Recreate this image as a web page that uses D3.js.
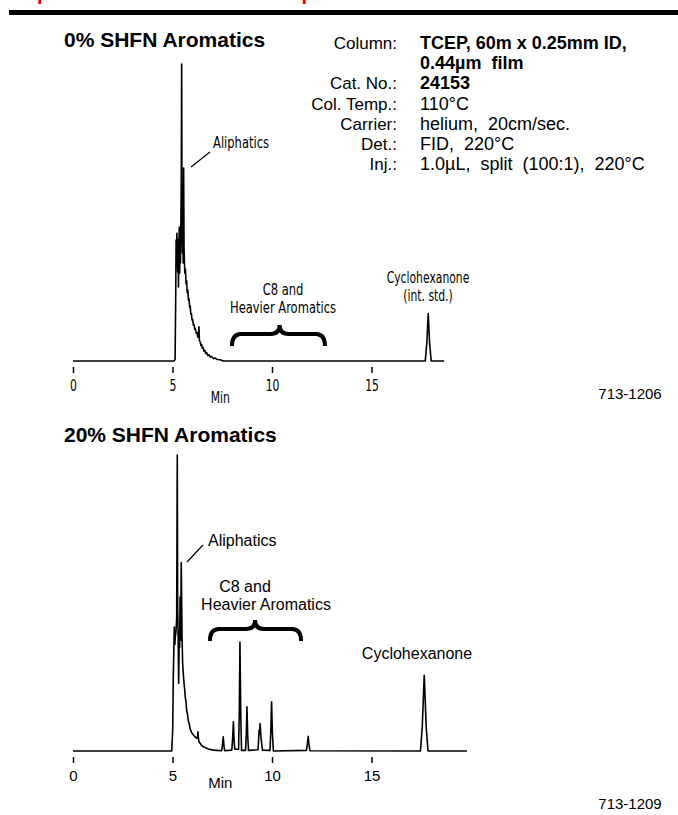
<!DOCTYPE html>
<html lang="en">
<head>
<meta charset="UTF-8">
<title>SHFN Aromatics</title>
<script src="https://d3js.org/d3.v7.min.js"></script>
<style>
  body { margin: 0; background: #fff; }
  svg { display: block; }
  .title { font: bold 21px "Liberation Sans", Arial, sans-serif; fill: #000; }
  .info { font: 17px "Liberation Sans", Arial, sans-serif; fill: #000; }
  .bold { font-weight: bold; }
  .narrow { font-family: "Liberation Sans Narrow", "DejaVu Sans Condensed", sans-serif; }
  .regular { font-family: "Liberation Sans", Arial, sans-serif; }
  .trace { fill: none; stroke: #000; stroke-width: 1.6; stroke-linejoin: round; }
  .brace { fill: none; stroke: #000; stroke-width: 4; }
  .lead { stroke: #000; stroke-width: 1.2; }
</style>
</head>
<body>
<svg id="chart" width="678" height="815"></svg>
<script>
// [retention time (min), detector signal (% of largest peak)]
const topTrace = [
  [0, 0], [5.08, 0], [5.13, 0.5], [5.16, 20], [5.18, 40.7], [5.2, 35], [5.22, 43], [5.24, 38],
  [5.26, 30], [5.28, 41], [5.3, 24.9], [5.32, 38], [5.34, 45.1], [5.36, 29.6], [5.38, 42], [5.4, 33],
  [5.42, 46.5], [5.44, 60], [5.46, 100], [5.48, 45], [5.5, 36.4], [5.52, 42], [5.54, 33], [5.56, 65],
  [5.58, 38.4], [5.6, 33], [5.62, 29.6], [5.65, 31], [5.68, 26], [5.71, 27], [5.74, 23], [5.77, 24],
  [5.8, 20.5], [5.83, 21], [5.86, 18], [5.89, 18.5], [5.92, 15.8], [5.95, 16], [5.98, 13.8], [6.01, 14],
  [6.05, 12], [6.08, 12.3], [6.12, 10.6], [6.15, 10.9], [6.19, 9.4], [6.23, 9.6], [6.27, 8], [6.3, 8.5],
  [6.33, 11.5], [6.35, 6.8], [6.39, 6.5], [6.43, 5.2], [6.46, 5.6], [6.5, 4.3], [6.54, 4.6], [6.58, 3.3],
  [6.62, 3.6], [6.67, 2.5], [6.72, 2.8], [6.78, 1.8], [6.84, 2.1], [6.9, 1.3], [6.97, 1.5], [7.05, 0.8],
  [7.15, 1.0], [7.25, 0.5], [7.4, 0.4], [7.55, 0],
  [17.7, 0], [17.78, 6], [17.85, 16], [17.92, 6], [18.0, 0], [18.65, 0]
];

const bottomTrace = [
  [0, 0], [4.96, 0], [5.01, 7.1], [5.04, 25], [5.09, 41.9], [5.12, 36], [5.14, 38.5], [5.18, 40.7],
  [5.21, 45], [5.24, 100], [5.26, 48], [5.28, 40.7], [5.31, 22.8], [5.34, 40.7], [5.36, 35], [5.38, 52],
  [5.41, 37.4], [5.44, 63.7], [5.48, 38.5], [5.51, 29.5], [5.55, 25.5], [5.58, 22.8], [5.61, 21],
  [5.64, 18.3], [5.68, 16.5], [5.71, 13.8], [5.75, 12.6], [5.79, 10.4], [5.84, 9.2], [5.88, 7.6],
  [5.96, 6.3], [6.05, 5.4], [6.15, 4.7], [6.22, 4.3], [6.26, 5], [6.28, 6.5], [6.3, 4.5], [6.33, 3.1],
  [6.45, 2], [6.55, 1.4], [6.8, 0.7], [7.05, 0.3], [7.47, 0.1], [7.51, 2], [7.55, 4.8], [7.59, 1.5],
  [7.62, 0.1], [7.98, 0.3], [8.02, 4], [8.06, 9.9], [8.1, 3], [8.13, 0.6], [8.32, 0.6], [8.36, 15],
  [8.39, 36.8], [8.43, 12], [8.47, 0.2], [8.67, 0.2], [8.71, 6], [8.74, 14.9], [8.78, 5], [8.82, 0.2],
  [9.3, 0.4], [9.35, 7], [9.37, 5.5], [9.4, 9.3], [9.45, 4.4], [9.52, 0.3], [9.9, 0.2], [9.94, 7],
  [9.98, 16.6], [10.02, 6], [10.07, 0], [11.73, 0.2], [11.78, 2.5], [11.82, 5], [11.86, 2], [11.91, 0.1],
  [17.46, 0], [17.55, 8], [17.65, 25.6], [17.75, 8], [17.84, 0], [19.8, 0]
];

const tickValues = [0, 5, 10, 15];

const infoLabels = ["Column:", "", "Cat. No.:", "Col. Temp.:", "Carrier:", "Det.:", "Inj.:"];
const infoValues = ["TCEP, 60m x 0.25mm ID,", "0.44\u00b5m  film", "24153", "110\u00b0C",
  "helium,  20cm/sec.", "FID,  220\u00b0C", "1.0\u00b5L,  split  (100:1),  220\u00b0C"];
const infoBold = [true, true, true, false, false, false, false];

const svg = d3.select("#chart");

// cut-off red heading and black rule
svg.append("text").attr("x", 12.6).attr("y", 0).attr("fill", "#e8000b")
  .attr("font-family", "Liberation Sans, Arial, sans-serif").attr("font-weight", "bold").attr("font-size", 20)
  .text("Separation of Aromatics");
svg.append("text").attr("x", 276).attr("y", 0).attr("fill", "#e8000b")
  .attr("font-family", "Liberation Sans, Arial, sans-serif").attr("font-weight", "bold").attr("font-size", 20)
  .text("Aliphatics in SHFN");
svg.append("rect").attr("x", 9).attr("y", 10).attr("width", 669).attr("height", 5).attr("fill", "#000");

const x = d3.scaleLinear().domain([0, 15]).range([73, 73 + 15 * 19.9]);

const panels = [
  {
    title: "0% SHFN Aromatics", titleY: 47, base: 361, top: 64, trace: topTrace,
    font: "narrow", code: "713-1206", codeY: 399, minY: 403,
    brace: { t0: 7.99, t1: 12.66, tm: 10.38, tip: 325, arm: 334, end: 346 },
    ali: { x: 213, y: 148, lx1: 210, ly1: 152, lx2: 191, ly2: 167 },
    c8: { x1: 283, y1: 295, x2: 283, y2: 313 },
    cyclo: { x: 428, lines: ["Cyclohexanone", "(int. std.)"], y: 283, size: 15, gap: 17.5 }
  },
  {
    title: "20% SHFN Aromatics", titleY: 442, base: 751, top: 455, trace: bottomTrace,
    font: "regular", code: "713-1209", codeY: 809, minY: 788,
    brace: { t0: 6.88, t1: 11.46, tm: 9.15, tip: 620, arm: 629, end: 641 },
    ali: { x: 208, y: 546, lx1: 203, ly1: 545, lx2: 187, ly2: 562 },
    c8: { x1: 245, y1: 592, x2: 266, y2: 610 },
    cyclo: { x: 417, lines: ["Cyclohexanone"], y: 659, size: 16, gap: 0 }
  }
];

panels.forEach(p => {
  const g = svg.append("g");
  const y = d3.scaleLinear().domain([0, 100]).range([p.base, p.top]);

  g.append("text").attr("class", "title").attr("x", 64).attr("y", p.titleY).text(p.title);

  g.append("path").attr("class", "trace")
    .attr("d", d3.line().x(d => x(d[0])).y(d => y(d[1]))(p.trace));

  // axis: ticks float just below the baseline
  const ax = g.append("g").attr("transform", `translate(0,${p.base + 6})`)
    .call(d3.axisBottom(x).tickValues(tickValues).tickSize(6).tickPadding(7).tickFormat(d3.format("d")));
  ax.select(".domain").remove();
  ax.selectAll("line").attr("stroke", "#000").attr("stroke-width", 1.5);
  ax.selectAll("text").attr("class", p.font).attr("font-size", 15).attr("fill", "#000");
  ax.attr("font-family", null);

  g.append("text").attr("class", p.font).attr("x", x(7.4)).attr("y", p.minY)
    .attr("text-anchor", "middle").attr("font-size", 15).text("Min");

  g.append("text").attr("class", "regular").attr("x", 630).attr("y", p.codeY)
    .attr("text-anchor", "middle").attr("font-size", 15).text(p.code);

  // Aliphatics label with leader
  g.append("text").attr("class", p.font).attr("x", p.ali.x).attr("y", p.ali.y)
    .attr("font-size", 16).text("Aliphatics");
  g.append("line").attr("class", "lead")
    .attr("x1", p.ali.lx1).attr("y1", p.ali.ly1).attr("x2", p.ali.lx2).attr("y2", p.ali.ly2);

  // C8 and heavier aromatics with brace
  g.append("text").attr("class", p.font).attr("x", p.c8.x1).attr("y", p.c8.y1)
    .attr("text-anchor", "middle").attr("font-size", 16).text("C8 and");
  g.append("text").attr("class", p.font).attr("x", p.c8.x2).attr("y", p.c8.y2)
    .attr("text-anchor", "middle").attr("font-size", 16).text("Heavier Aromatics");

  const b = p.brace, bx0 = x(b.t0), bx1 = x(b.t1), bxm = x(b.tm), r = 9;
  const path = d3.path();
  path.moveTo(bx0, b.end);
  path.quadraticCurveTo(bx0, b.arm, bx0 + r, b.arm);
  path.lineTo(bxm - r, b.arm);
  path.quadraticCurveTo(bxm, b.arm, bxm, b.tip);
  path.quadraticCurveTo(bxm, b.arm, bxm + r, b.arm);
  path.lineTo(bx1 - r, b.arm);
  path.quadraticCurveTo(bx1, b.arm, bx1, b.end);
  g.append("path").attr("class", "brace").attr("d", path.toString());

  p.cyclo.lines.forEach((s, i) => {
    g.append("text").attr("class", p.font).attr("x", p.cyclo.x).attr("y", p.cyclo.y + i * p.cyclo.gap)
      .attr("text-anchor", "middle").attr("font-size", p.cyclo.size).text(s);
  });
});

// the upper panel's labels are set in a condensed face
svg.selectAll("text.narrow").each(function () {
  const len = this.getComputedTextLength();
  d3.select(this).attr("textLength", len * 0.8).attr("lengthAdjust", "spacingAndGlyphs");
});

// conditions block
const info = svg.append("g").attr("class", "info");
infoLabels.forEach((lab, i) => {
  const yy = 49 + i * 20.2;
  info.append("text").attr("x", 397).attr("y", yy).attr("text-anchor", "end").text(lab);
  info.append("text").attr("x", 420).attr("y", yy).attr("class", infoBold[i] ? "bold" : null)
    .attr("font-size", 18).style("white-space", "pre").text(infoValues[i]);
});
</script>
</body>
</html>
